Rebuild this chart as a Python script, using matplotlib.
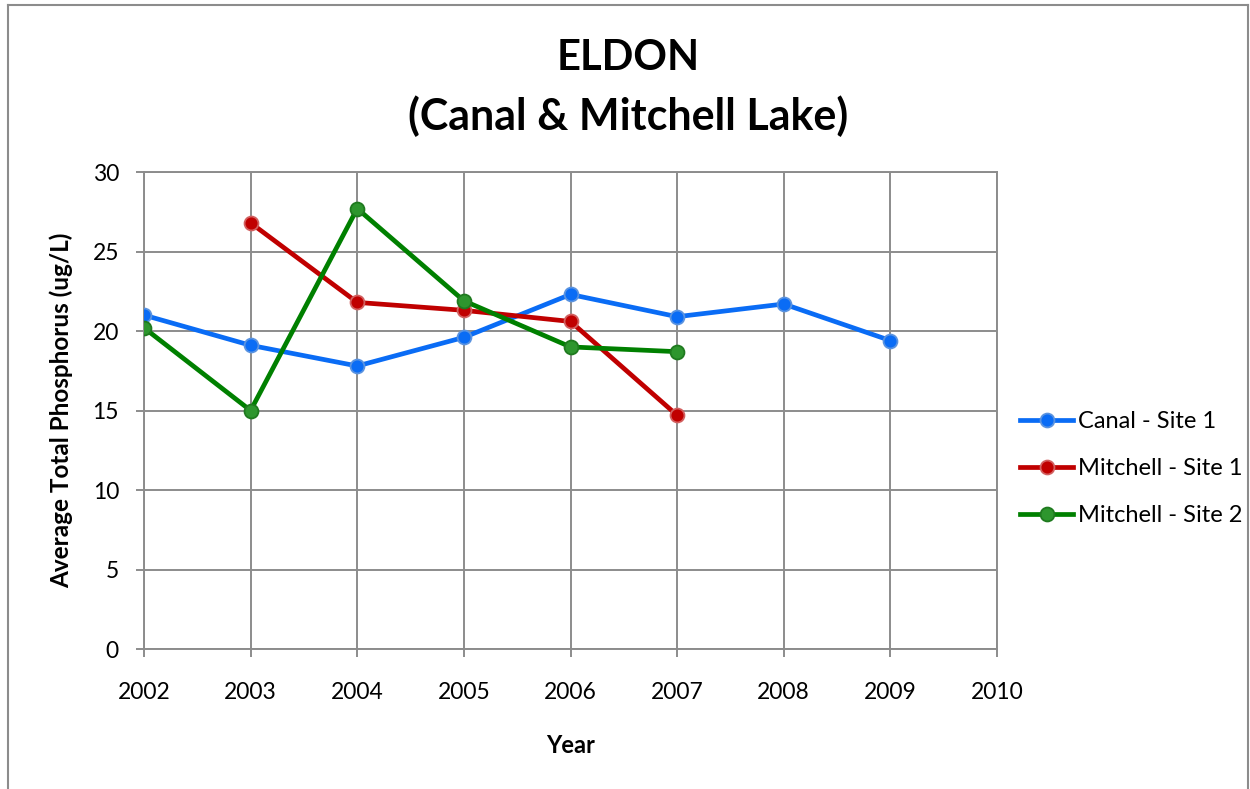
import matplotlib
matplotlib.use("Agg")
import matplotlib.pyplot as plt
from matplotlib.lines import Line2D

# data
canal_years = [2002, 2003, 2004, 2005, 2006, 2007, 2008, 2009]
canal_tp = [21.0, 19.1, 17.8, 19.6, 22.3, 20.9, 21.7, 19.4]

mitchell1_years = [2003, 2004, 2005, 2006, 2007]
mitchell1_tp = [26.8, 21.8, 21.3, 20.6, 14.7]

mitchell2_years = [2002, 2003, 2004, 2005, 2006, 2007]
mitchell2_tp = [20.2, 15.0, 27.7, 21.9, 19.0, 18.7]

x_ticks = list(range(2002, 2011))
y_ticks = [0, 5, 10, 15, 20, 25, 30]

plt.rcParams['font.family'] = ['Lato', 'DejaVu Sans']

fig = plt.figure(figsize=(12.5, 7.89), dpi=100)
fig.patch.set_facecolor('white')
ax = fig.add_axes([0.1152, 0.1774, 0.6824, 0.6046])

series = [
    ("Canal - Site 1", canal_years, canal_tp, '#0a6cf5', '#0a6cf5', '#5a93e0'),
    ("Mitchell - Site 1", mitchell1_years, mitchell1_tp, '#c00000', '#c00000', '#d26060'),
    ("Mitchell - Site 2", mitchell2_years, mitchell2_tp, '#008000', '#2e962e', '#1f7a1f'),
]
for label, xs, ys, lc, fc, ec in series:
    ax.plot(xs, ys, color=lc, linewidth=3.4, marker='o', markersize=10,
            markerfacecolor=fc, markeredgecolor=ec, markeredgewidth=1.3,
            label=label, zorder=3)

ax.set_xlim(2002, 2010)
ax.set_ylim(0, 30)
ax.set_xticks(x_ticks)
ax.set_yticks(y_ticks)
ax.grid(True, color='#8c8c8c', linewidth=1.4)
ax.set_axisbelow(True)
for s in ax.spines.values():
    s.set_color('#8c8c8c')
    s.set_linewidth(1.4)
ax.tick_params(axis='both', colors='#8c8c8c', length=6, width=1.4,
               labelcolor='black', labelsize=16.5)
ax.tick_params(axis='x', pad=18)
ax.tick_params(axis='y', pad=12)

ax.set_xlabel("Year", fontsize=17, fontweight='bold', labelpad=22)
ax.set_ylabel("Average Total Phosphorus (ug/L)", fontsize=17.5, fontweight='bold', labelpad=14)

fig.text(0.5024, 0.926, "ELDON", ha='center', va='center', fontsize=30, fontweight='bold')
fig.text(0.5024, 0.853, "(Canal & Mitchell Lake)", ha='center', va='center', fontsize=31, fontweight='bold')

leg = ax.legend(loc='center left', bbox_to_anchor=(1.027, 0.378), frameon=False,
                fontsize=17, handlelength=2.25, handletextpad=0.2,
                labelspacing=1.1, borderaxespad=0, borderpad=0)

# outer chart border
fig.add_artist(Line2D([0.0064, 0.0064], [0.0, 0.9937], color='#8c8c8c', linewidth=1.5, transform=fig.transFigure))
fig.add_artist(Line2D([0.0064, 0.9984], [0.9937, 0.9937], color='#8c8c8c', linewidth=1.5, transform=fig.transFigure))
fig.add_artist(Line2D([0.9984, 0.9984], [0.0, 0.9937], color='#8c8c8c', linewidth=1.5, transform=fig.transFigure))

fig.savefig("out.png", dpi=100)
